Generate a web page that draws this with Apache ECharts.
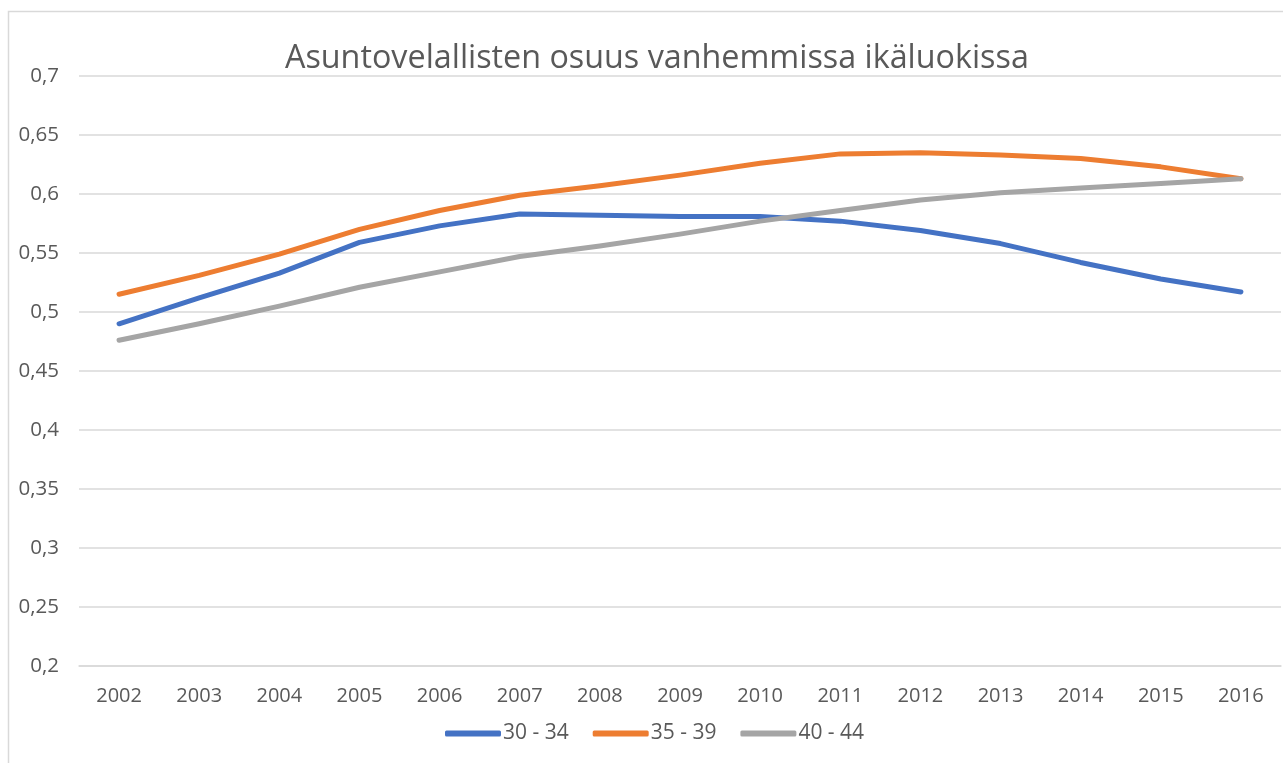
<!DOCTYPE html>
<html>
<head>
<meta charset="utf-8">
<script src="https://cdn.jsdelivr.net/npm/echarts@6/dist/echarts.min.js"></script>
<style>
  html, body { margin: 0; padding: 0; background: #fff; }
  #chart { width: 1283px; height: 763px; }
</style>
</head>
<body>
<div id="chart"></div>
<script>
// vuodet
const years = ['2002', '2003', '2004', '2005', '2006', '2007', '2008', '2009',
  '2010', '2011', '2012', '2013', '2014', '2015', '2016'];
// ikäluokat
const seriesNames = ['30 - 34', '35 - 39', '40 - 44'];
const age3034 = [0.490, 0.512, 0.533, 0.559, 0.573, 0.583, 0.582, 0.581,
  0.581, 0.577, 0.569, 0.558, 0.542, 0.528, 0.517];
const age3539 = [0.515, 0.531, 0.549, 0.570, 0.586, 0.599, 0.607, 0.616,
  0.626, 0.634, 0.635, 0.633, 0.630, 0.623, 0.613];
const age4044 = [0.476, 0.490, 0.505, 0.521, 0.534, 0.547, 0.556, 0.566,
  0.577, 0.586, 0.595, 0.601, 0.605, 0.609, 0.613];
const colors = ['#4472C4', '#ED7D31', '#A5A5A5'];

const font = '"Open Sans", "Noto Sans", sans-serif';
const chart = echarts.init(document.getElementById('chart'));

function lineSeries(name, data, color) {
  return {
    name: name,
    type: 'line',
    data: data,
    symbol: 'none',
    smooth: false,
    lineStyle: { width: 5, color: color, cap: 'round', join: 'round' },
    itemStyle: { color: color }
  };
}

chart.setOption({
  animation: false,
  color: colors,
  title: {
    text: 'Asuntovelallisten osuus vanhemmissa ikäluokissa',
    left: 280,
    top: 38,
    textStyle: { fontFamily: font, fontSize: 32.3, fontWeight: 'normal', color: '#595959' }
  },
  graphic: [{
    type: 'rect',
    silent: true,
    shape: { x: 8.5, y: 11.5, width: 1290, height: 770 },
    style: { fill: 'none', stroke: '#d9d9d9', lineWidth: 1.5 }
  }],
  legend: {
    data: seriesNames,
    top: 718,
    left: 440,
    icon: 'roundRect',
    itemWidth: 56,
    itemHeight: 6,
    itemGap: 24,
    textStyle: { fontFamily: font, fontSize: 21, color: '#595959', padding: [0, 0, 0, -3] }
  },
  grid: { left: 79, right: 2, top: 76, bottom: 97, containLabel: false },
  xAxis: {
    type: 'category',
    data: years,
    boundaryGap: true,
    axisLine: { show: true, lineStyle: { color: '#d9d9d9', width: 1.5 } },
    axisTick: { show: false },
    axisLabel: { margin: 20, fontFamily: font, fontSize: 20, color: '#595959' }
  },
  yAxis: {
    type: 'value',
    min: 0.2,
    max: 0.7,
    interval: 0.05,
    axisLine: { show: false },
    axisTick: { show: false },
    splitLine: { lineStyle: { color: '#d9d9d9', width: 1.5 } },
    axisLabel: {
      margin: 20,
      fontFamily: font,
      fontSize: 20.5,
      color: '#595959',
      formatter: v => String(+v.toFixed(2)).replace('.', ',')
    }
  },
  series: [
    lineSeries(seriesNames[0], age3034, colors[0]),
    lineSeries(seriesNames[1], age3539, colors[1]),
    lineSeries(seriesNames[2], age4044, colors[2])
  ]
});
</script>
</body>
</html>
